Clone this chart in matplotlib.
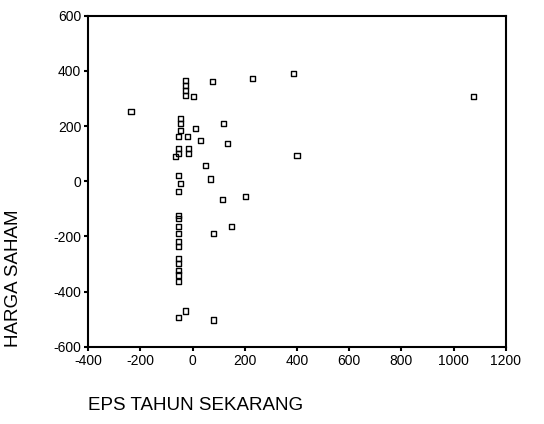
import matplotlib
matplotlib.use('Agg')
import matplotlib.pyplot as plt

# EPS (x) vs harga saham (y)
eps = [-236, -27, -27, -27, -27, 4, 76, 229, 385, 1075,
       -46, -46, -46, 11, -53, -19, 30, 118, 133,
       -53, -53, -15, -15, -65, 50, -53, 69, -46, -53, 114, 202, 400,
       -53, -53, -53, -53, -53, -53, -53, -53, -53, -53, -53,
       80, 149, -27, -53, 80]
harga = [253, 365, 347, 329, 311, 307, 362, 372, 391, 308,
         228, 210, 184, 192, 163, 163, 148, 210, 137,
         119, 101, 119, 101, 90, 58, 22, 8, -7, -36, -65, -54, 94,
         -123, -134, -163, -188, -217, -235, -279, -297, -322, -340, -362,
         -188, -163, -470, -495, -503]

plt.rcParams['font.family'] = ['Liberation Sans', 'DejaVu Sans']
plt.rcParams['axes.unicode_minus'] = False

fig = plt.figure(figsize=(5.44, 4.24), dpi=100)
ax = fig.add_axes([0.162, 0.182, 0.768, 0.781])
ax.scatter(eps, harga, marker='s', s=14, facecolors='none',
           edgecolors='black', linewidths=1.0)

ax.set_xlim(-400, 1200)
ax.set_ylim(-600, 600)
ax.set_xticks(range(-400, 1201, 200))
ax.set_yticks(range(-600, 601, 200))
ax.tick_params(direction='out', length=3, width=1.5, labelsize=10, pad=2)
for s in ax.spines.values():
    s.set_linewidth(1.5)

ax.set_xlabel('EPS TAHUN SEKARANG', fontsize=13.5, loc='left')
ax.xaxis.set_label_coords(0, -0.15)
ax.set_ylabel('HARGA SAHAM', fontsize=13.5, loc='bottom')
ax.yaxis.set_label_coords(-0.158, 0)

fig.savefig('out.png', dpi=100)
